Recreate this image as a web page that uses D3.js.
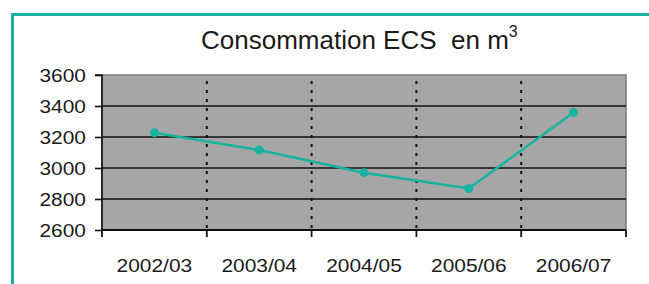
<!DOCTYPE html>
<html><head><meta charset="utf-8">
<script src="https://cdn.jsdelivr.net/npm/d3@7"></script>
<style>body{margin:0;background:#fff}svg{display:block}text{font-family:"Liberation Sans",Arial,sans-serif;fill:#1a1a1a}</style>
</head><body>
<svg id="c" width="649" height="284"></svg>
<script>
const categories = ["2002/03","2003/04","2004/05","2005/06","2006/07"];
const values = [3228, 3116, 2970, 2868, 3358];
const yTicks = [2600,2800,3000,3200,3400,3600];
const title = "Consommation ECS  en m";

const svg = d3.select("#c");
const teal = "#17b2a0";
const m = {left:102, right:626, top:75, bottom:230};

// frame
svg.append("path").attr("d", "M12.5,284 L12.5,14.5 L649,14.5")
  .attr("fill","none").attr("stroke",teal).attr("stroke-width",3);

const x = d3.scaleBand().domain(categories).range([m.left, m.right]);
const y = d3.scaleLinear().domain([2600,3600]).range([m.bottom, m.top]);

// plot background
svg.append("rect").attr("x",m.left).attr("y",m.top).attr("width",m.right-m.left).attr("height",m.bottom-m.top)
  .attr("fill","#a6a6a6").attr("stroke","#7a7a7a").attr("stroke-width",1.5);

// horizontal grid
svg.append("g").selectAll("line").data(yTicks.slice(1,-1)).join("line")
  .attr("x1",m.left).attr("x2",m.right).attr("y1",d=>y(d)).attr("y2",d=>y(d))
  .attr("stroke","#111").attr("stroke-width",1.6);

// vertical dotted lines
svg.append("g").selectAll("line").data(categories.slice(1)).join("line")
  .attr("x1",d=>x(d)).attr("x2",d=>x(d)).attr("y1",m.top+6).attr("y2",m.bottom)
  .attr("stroke","#111").attr("stroke-width",2).attr("stroke-dasharray","3,6");

// y axis
const yAxis = d3.axisLeft(y).tickValues(yTicks).tickSize(7).tickPadding(9).tickFormat(d3.format("d"));
const gy = svg.append("g").attr("transform",`translate(${m.left},0)`).call(yAxis);
gy.select(".domain").attr("stroke","#111").attr("stroke-width",1.6).attr("d",`M-7,${m.top}H0V${m.bottom}`);
gy.selectAll(".tick line").attr("stroke","#111").attr("stroke-width",1.6);
gy.selectAll("text").attr("font-size",19).attr("fill","#1a1a1a").attr("font-family",'"Liberation Sans",Arial,sans-serif');

// x axis
const bounds = categories.map(c=>x(c)).concat([m.right]);
const gx = svg.append("g");
gx.append("line").attr("x1",m.left).attr("x2",m.right).attr("y1",m.bottom).attr("y2",m.bottom)
  .attr("stroke","#111").attr("stroke-width",2);
gx.selectAll(".tk").data(bounds).join("line").attr("class","tk")
  .attr("x1",d=>d).attr("x2",d=>d).attr("y1",m.bottom).attr("y2",m.bottom+7)
  .attr("stroke","#111").attr("stroke-width",1.8);
gx.selectAll("text").data(categories).join("text")
  .attr("x",d=>x(d)+x.bandwidth()/2).attr("y",272).attr("text-anchor","middle")
  .attr("font-size",19).text(d=>d);

// line
const line = d3.line().x((d,i)=>x(categories[i])+x.bandwidth()/2).y(d=>y(d));
svg.append("path").datum(values).attr("d",line).attr("fill","none").attr("stroke",teal).attr("stroke-width",2.5);
svg.append("g").selectAll("circle").data(values).join("circle")
  .attr("cx",(d,i)=>x(categories[i])+x.bandwidth()/2).attr("cy",d=>y(d)).attr("r",4.5).attr("fill",teal);

// title
const t = svg.append("text").attr("x",201).attr("y",49).attr("font-size",26).attr("xml:space","preserve");
t.append("tspan").text(title);
t.append("tspan").attr("font-size",16).attr("dy",-12).text("3");

// stretch axis labels slightly horizontally
svg.selectAll("g text").each(function(){
  const len = this.getComputedTextLength();
  d3.select(this).attr("textLength",len*1.1).attr("lengthAdjust","spacingAndGlyphs");
});
</script>
</body></html>
